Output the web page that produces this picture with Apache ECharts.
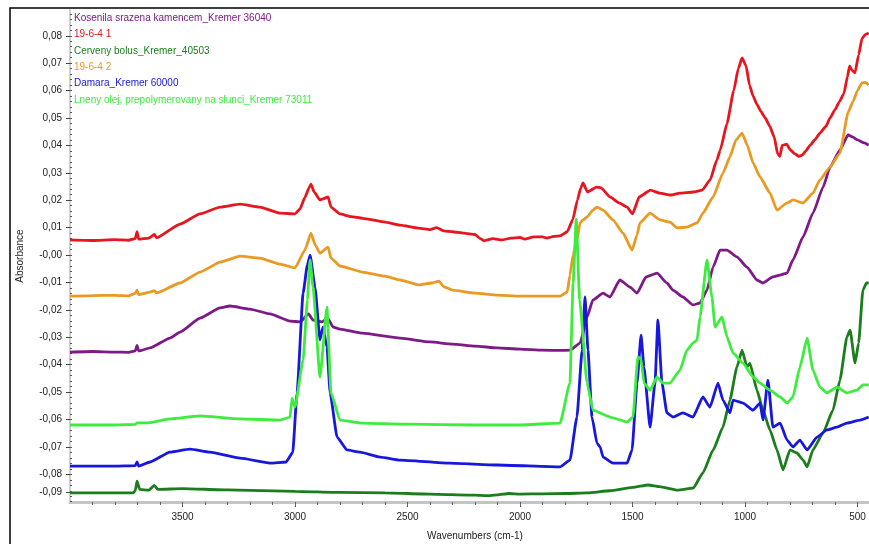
<!DOCTYPE html>
<html>
<head>
<meta charset="utf-8">
<script src="https://cdn.jsdelivr.net/npm/echarts@6/dist/echarts.min.js"></script>
<style>
  html, body { margin: 0; padding: 0; background: #fff; }
  #chart { width: 869px; height: 544px; }
</style>
</head>
<body>
<div id="chart"></div>
<script>
// FTIR spectra: [wavenumber (cm-1), absorbance]
const kosenila = [
  [4000,-0.0354],[3900,-0.0352],[3800,-0.0354],[3740,-0.0355],[3710,-0.0350],[3702,-0.0330],[3695,-0.0350],
  [3644,-0.0339],[3556,-0.0303],[3511,-0.0281],[3422,-0.0230],[3333,-0.0193],[3289,-0.0186],[3200,-0.0197],
  [3111,-0.0215],[3022,-0.0241],[2978,-0.0244],[2940,-0.0215],[2920,-0.0237],[2880,-0.0244],[2855,-0.0230],
  [2830,-0.0263],[2800,-0.0270],[2700,-0.0285],[2533,-0.0303],[2400,-0.0317],[2300,-0.0325],[2200,-0.0332],
  [2100,-0.0339],[2000,-0.0343],[1900,-0.0347],[1822,-0.0348],[1778,-0.0347],[1733,-0.0321],[1702,-0.0226],
  [1676,-0.0164],[1631,-0.0139],[1600,-0.0153],[1556,-0.0091],[1511,-0.0117],[1480,-0.0139],[1440,-0.0080],
  [1391,-0.0066],[1347,-0.0102],[1320,-0.0128],[1276,-0.0153],[1231,-0.0182],[1200,-0.0175],[1169,-0.0128],
  [1142,-0.0044],[1111,0.0018],[1080,0.0018],[1036,-0.0007],[991,-0.0044],[947,-0.0091],[920,-0.0102],
  [876,-0.0080],[840,-0.0072],[813,-0.0066],[787,-0.0018],[742,0.0066],[698,0.0153],[653,0.0248],[622,0.0321],
  [578,0.0383],[542,0.0438],[520,0.0430],[500,0.0420],[470,0.0409],[450,0.0401]
];
const sample1 = [
  [4000,0.0055],[3900,0.0053],[3800,0.0056],[3740,0.0054],[3710,0.0060],[3702,0.0085],[3695,0.0058],
  [3650,0.0062],[3625,0.0075],[3615,0.0063],[3511,0.0113],[3422,0.0150],[3333,0.0175],[3244,0.0186],
  [3156,0.0175],[3067,0.0153],[3000,0.0150],[2978,0.0168],[2956,0.0210],[2938,0.0245],[2929,0.0259],
  [2915,0.0230],[2889,0.0201],[2876,0.0205],[2853,0.0212],[2840,0.0175],[2800,0.0150],[2750,0.0140],
  [2700,0.0134],[2600,0.0120],[2533,0.0109],[2450,0.0098],[2400,0.0093],[2370,0.0100],[2340,0.0088],
  [2300,0.0085],[2250,0.0080],[2200,0.0075],[2180,0.0062],[2160,0.0052],[2120,0.0060],[2080,0.0055],
  [2040,0.0062],[2000,0.0064],[1980,0.0058],[1940,0.0066],[1900,0.0066],[1880,0.0062],[1850,0.0068],
  [1822,0.0070],[1790,0.0085],[1765,0.0130],[1745,0.0200],[1730,0.0245],
  [1720,0.0263],[1700,0.0230],[1660,0.0248],[1640,0.0245],[1600,0.0212],[1560,0.0190],[1524,0.0175],
  [1500,0.0150],[1470,0.0212],[1420,0.0237],[1380,0.0226],[1330,0.0219],[1290,0.0226],[1230,0.0230],
  [1190,0.0237],[1155,0.0274],[1125,0.0347],[1110,0.0383],[1080,0.0480],[1050,0.0600],[1030,0.0680],
  [1013,0.0719],[995,0.0690],[980,0.0620],[964,0.0580],[947,0.0550],[930,0.0525],[910,0.0500],
  [890,0.0470],[870,0.0430],[855,0.0370],[845,0.0360],[835,0.0400],[815,0.0405],[800,0.0385],
  [780,0.0370],[760,0.0360],[745,0.0365],[730,0.0380],[711,0.0400],[690,0.0420],[667,0.0445],
  [640,0.0470],[622,0.0500],[600,0.0530],[580,0.0560],[560,0.0590],[545,0.0650],[535,0.0690],
  [525,0.0675],[511,0.0665],[495,0.0730],[480,0.0790],[465,0.0805],[450,0.0810]
];
const cervenyBolus = [
  [4000,-0.0868],[3800,-0.0868],[3720,-0.0868],[3710,-0.0860],[3702,-0.0825],[3690,-0.0855],[3650,-0.0858],
  [3625,-0.0840],[3610,-0.0855],[3500,-0.0852],[3300,-0.0857],[3000,-0.0862],[2800,-0.0866],[2600,-0.0868],
  [2400,-0.0872],[2200,-0.0876],[2150,-0.0878],[2100,-0.0875],[2050,-0.0870],[2000,-0.0872],[1900,-0.0871],
  [1800,-0.0870],[1700,-0.0868],[1600,-0.0860],[1500,-0.0848],[1430,-0.0839],[1380,-0.0845],[1300,-0.0858],
  [1230,-0.0850],[1187,-0.0795],[1142,-0.0712],[1098,-0.0628],[1067,-0.0529],[1036,-0.0409],[1013,-0.0347],
  [991,-0.0409],[978,-0.0394],[947,-0.0493],[920,-0.0566],[889,-0.0638],[858,-0.0711],[831,-0.0784],
  [800,-0.0711],[769,-0.0722],[742,-0.0748],[724,-0.0773],[698,-0.0711],[653,-0.0649],[609,-0.0566],
  [578,-0.0456],[547,-0.0299],[533,-0.0274],[511,-0.0394],[495,-0.0321],[476,-0.0128],[460,-0.0102],[450,-0.0102]
];
const sample2 = [
  [4000,-0.0150],[3900,-0.0148],[3800,-0.0147],[3740,-0.0149],[3710,-0.0140],[3702,-0.0128],[3695,-0.0145],
  [3644,-0.0135],[3625,-0.0130],[3615,-0.0138],[3511,-0.0102],[3422,-0.0062],[3333,-0.0026],[3244,-0.0004],
  [3156,-0.0011],[3067,-0.0033],[3000,-0.0047],[2956,0.0018],[2929,0.0080],[2910,0.0036],[2889,0.0007],
  [2853,0.0029],[2840,-0.0011],[2800,-0.0040],[2700,-0.0062],[2600,-0.0077],[2533,-0.0091],[2450,-0.0109],
  [2391,-0.0102],[2360,-0.0095],[2340,-0.0115],[2300,-0.0128],[2200,-0.0139],[2100,-0.0146],[2000,-0.0150],
  [1900,-0.0150],[1822,-0.0150],[1790,-0.0135],[1778,-0.0073],[1764,0.0000],[1747,0.0055],[1733,0.0117],
  [1720,0.0128],[1702,0.0139],[1676,0.0164],[1658,0.0175],[1631,0.0164],[1587,0.0128],[1542,0.0080],
  [1502,0.0018],[1480,0.0073],[1467,0.0117],[1422,0.0153],[1378,0.0128],[1333,0.0120],[1302,0.0099],
  [1258,0.0102],[1213,0.0117],[1187,0.0153],[1142,0.0212],[1098,0.0299],[1067,0.0358],[1040,0.0420],
  [1013,0.0445],[990,0.0401],[964,0.0336],[933,0.0285],[889,0.0226],[858,0.0164],[813,0.0190],
  [787,0.0201],[742,0.0190],[698,0.0226],[667,0.0274],[622,0.0321],[578,0.0372],[542,0.0520],
  [520,0.0560],[500,0.0600],[480,0.0628],[465,0.0630],[450,0.0620]
];
const damara = [
  [4000,-0.0770],[3800,-0.0770],[3710,-0.0768],[3702,-0.0755],[3695,-0.0770],[3644,-0.0755],[3556,-0.0719],
  [3467,-0.0708],[3378,-0.0719],[3244,-0.0741],[3111,-0.0759],[3040,-0.0755],[3010,-0.0720],[2991,-0.0503],
  [2964,-0.0139],[2945,-0.0036],[2933,0.0000],[2911,-0.0117],[2889,-0.0310],[2876,-0.0263],[2858,-0.0336],
  [2844,-0.0503],[2813,-0.0664],[2769,-0.0711],[2711,-0.0719],[2622,-0.0737],[2533,-0.0748],[2311,-0.0759],
  [2100,-0.0766],[1822,-0.0773],[1778,-0.0748],[1747,-0.0591],[1724,-0.0347],[1711,-0.0153],[1698,-0.0347],
  [1680,-0.0591],[1658,-0.0686],[1644,-0.0700],[1631,-0.0737],[1587,-0.0759],[1524,-0.0759],[1502,-0.0711],
  [1480,-0.0467],[1462,-0.0292],[1449,-0.0409],[1422,-0.0628],[1400,-0.0467],[1387,-0.0237],[1369,-0.0467],
  [1347,-0.0576],[1320,-0.0591],[1276,-0.0576],[1231,-0.0591],[1187,-0.0518],[1156,-0.0555],[1120,-0.0467],
  [1098,-0.0529],[1067,-0.0576],[1053,-0.0529],[1009,-0.0540],[964,-0.0566],[933,-0.0540],[920,-0.0602],
  [898,-0.0456],[876,-0.0628],[844,-0.0613],[813,-0.0675],[787,-0.0700],[756,-0.0675],[724,-0.0711],
  [680,-0.0664],[636,-0.0638],[591,-0.0628],[547,-0.0613],[489,-0.0602],[450,-0.0591]
];
const lnenyOlej = [
  [4000,-0.0620],[3800,-0.0620],[3710,-0.0618],[3702,-0.0612],[3650,-0.0612],[3556,-0.0598],[3422,-0.0587],
  [3244,-0.0598],[3067,-0.0602],[3022,-0.0591],[3013,-0.0522],[3000,-0.0555],[2964,-0.0383],[2945,-0.0164],
  [2933,-0.0018],[2920,-0.0117],[2889,-0.0445],[2858,-0.0190],[2840,-0.0503],[2800,-0.0602],[2700,-0.0613],
  [2500,-0.0617],[2200,-0.0620],[2000,-0.0620],[1822,-0.0613],[1778,-0.0467],[1764,-0.0102],[1750,0.0130],
  [1735,-0.0164],[1702,-0.0467],[1676,-0.0566],[1600,-0.0591],[1524,-0.0609],[1498,-0.0591],[1476,-0.0372],
  [1462,-0.0380],[1449,-0.0467],[1422,-0.0493],[1391,-0.0445],[1364,-0.0467],[1333,-0.0467],[1289,-0.0420],
  [1258,-0.0347],[1231,-0.0321],[1213,-0.0310],[1200,-0.0226],[1169,-0.0018],[1147,-0.0153],[1133,-0.0263],
  [1102,-0.0226],[1080,-0.0299],[1053,-0.0358],[1009,-0.0394],[964,-0.0445],[933,-0.0467],[889,-0.0493],
  [844,-0.0518],[813,-0.0540],[787,-0.0518],[756,-0.0409],[724,-0.0303],[698,-0.0420],[667,-0.0482],
  [636,-0.0503],[591,-0.0482],[547,-0.0503],[502,-0.0493],[476,-0.0474],[450,-0.0474]
];

const seriesNames = [
  'Kosenila srazena kamencem_Kremer 36040',
  '19-6-4 1',
  'Cerveny bolus_Kremer_40503',
  '19-6-4 2',
  'Damara_Kremer 60000',
  'Lneny olej, prepolymerovany na slunci_Kremer 73011'
];
const seriesData = [kosenila, sample1, cervenyBolus, sample2, damara, lnenyOlej];
const seriesColors = ['#7e1a88', '#e5161e', '#1c7d1c', '#e99a22', '#1717de', '#3ded3d'];

// axis ticks and their printed labels
const xTickValues = [3500, 3000, 2500, 2000, 1500, 1000, 500];
const xTickLabels = ['3500', '3000', '2500', '2000', '1500', '1000', '500'];
const yTickValues = [0.08, 0.07, 0.06, 0.05, 0.04, 0.03, 0.02, 0.01, 0, -0.01, -0.02, -0.03, -0.04, -0.05, -0.06, -0.07, -0.08, -0.0864];
const yTickLabels = ['0,08', '0,07', '0,06', '0,05', '0,04', '0,03', '0,02', '0,01', '-0,00', '-0,01', '-0,02', '-0,03', '-0,04', '-0,05', '-0,06', '-0,07', '-0,08', '-0,09'];

const xMinor = [];
for (let w = 3900; w >= 500; w -= 100) xMinor.push(w);
const yMinor = [];
for (let k = -45; k <= 44; k++) yMinor.push(k * 0.002);

function labelFor(values, labels, v) {
  let best = 0;
  for (let i = 1; i < values.length; i++) {
    if (Math.abs(values[i] - v) < Math.abs(values[best] - v)) best = i;
  }
  return labels[best];
}

const FONT = '"Liberation Sans", Arial, sans-serif';
const X_MIN = 400, X_MAX = 4000, Y_MIN = -0.0901, Y_MAX = 0.0894;

const chart = echarts.init(document.getElementById('chart'), null, { renderer: 'canvas' });
chart.setOption({
  backgroundColor: '#ffffff',
  animation: false,
  textStyle: { fontFamily: FONT },
  grid: { left: 70, top: 10, width: 810, height: 492, outerBoundsMode: 'none', containLabel: false },
  legend: {
    orient: 'vertical',
    left: 69,
    top: 12,
    padding: 0,
    icon: 'rect',
    itemWidth: 0,
    itemHeight: 0,
    itemGap: 4.4,
    selectedMode: false,
    textStyle: { fontFamily: FONT, fontSize: 10, lineHeight: 12 },
    data: seriesNames.map((n, i) => ({ name: n, textStyle: { color: seriesColors[i] } }))
  },
  xAxis: [
    {
      type: 'value', min: X_MIN, max: X_MAX, inverse: true,
      splitLine: { show: false },
      axisLine: { show: true, onZero: false, lineStyle: { color: '#c4c4c4', width: 3 } },
      axisTick: { show: true, customValues: xTickValues, length: 5, lineStyle: { color: '#555', width: 1 } },
      axisLabel: {
        customValues: xTickValues, margin: 10, color: '#222', fontSize: 10, fontFamily: FONT,
        formatter: v => labelFor(xTickValues, xTickLabels, v)
      },
      name: 'Wavenumbers (cm-1)', nameLocation: 'middle', nameGap: 29,
      nameTextStyle: { color: '#222', fontSize: 10, fontFamily: FONT }
    },
    {
      type: 'value', min: X_MIN, max: X_MAX, inverse: true, position: 'bottom',
      splitLine: { show: false },
      axisLine: { show: false, onZero: false },
      axisTick: { show: true, customValues: xMinor, length: 3, lineStyle: { color: '#666', width: 1 } },
      axisLabel: { show: false }
    }
  ],
  yAxis: [
    {
      type: 'value', min: Y_MIN, max: Y_MAX,
      splitLine: { show: false },
      axisLine: { show: true, onZero: false, lineStyle: { color: '#cfcfcf', width: 2 } },
      axisTick: { show: true, customValues: yTickValues, length: 4, lineStyle: { color: '#444', width: 1 } },
      axisLabel: {
        customValues: yTickValues, margin: 8, color: '#222', fontSize: 10, fontFamily: FONT,
        formatter: v => labelFor(yTickValues, yTickLabels, v)
      },
      name: 'Absorbance', nameLocation: 'middle', nameGap: 45,
      nameTextStyle: { color: '#222', fontSize: 10, fontFamily: FONT }
    },
    {
      type: 'value', min: Y_MIN, max: Y_MAX, position: 'left',
      splitLine: { show: false },
      axisLine: { show: false, onZero: false },
      axisTick: { show: true, inside: true, customValues: yMinor, length: 2, lineStyle: { color: '#555', width: 1 } },
      axisLabel: { show: false }
    }
  ],
  graphic: [
    {
      type: 'rect', silent: true, z: 10,
      shape: { x: 10, y: 8, width: 900, height: 600 },
      style: { fill: 'none', stroke: '#000', lineWidth: 1.5 }
    }
  ],
  series: seriesNames.map((n, i) => ({
    name: n,
    type: 'line',
    data: seriesData[i],
    showSymbol: false,
    smooth: 0.15,
    smoothMonotone: 'x',
    lineStyle: { color: seriesColors[i], width: 2.8 },
    itemStyle: { color: seriesColors[i] },
    emphasis: { disabled: true }
  }))
});
</script>
</body>
</html>
